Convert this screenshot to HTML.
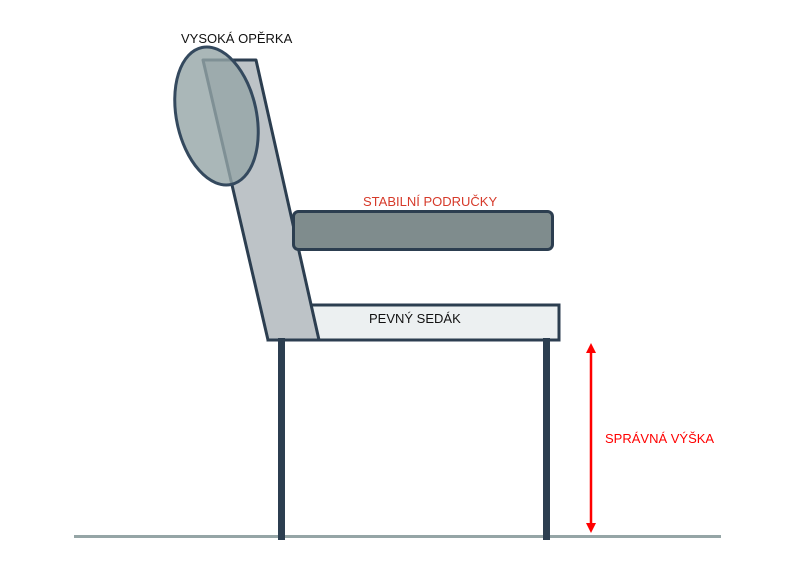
<!DOCTYPE html>
<html><head><style>body{margin:0;background:#fff}svg{display:block}</style></head><body>
<svg width="794" height="569" viewBox="0 0 794 569" xmlns="http://www.w3.org/2000/svg" font-family="Liberation Sans, sans-serif">
<line x1="74" y1="536.5" x2="721" y2="536.5" stroke="#95a5a6" stroke-width="3"/>
<rect x="268" y="305" width="291" height="35" fill="#ecf0f1" stroke="#2c3e50" stroke-width="3"/>
<polygon points="203,60 256,60 319,340 268,340" fill="#bdc3c7" stroke="#2c3e50" stroke-width="3" stroke-linejoin="round"/>
<rect x="293.5" y="211.5" width="259" height="38" rx="5" fill="#7f8c8d" stroke="#2c3e50" stroke-width="3"/>
<ellipse cx="216.5" cy="116" rx="40" ry="70" transform="rotate(-12 216.5 116)" fill="#95a5a6" fill-opacity="0.8" stroke="#34495e" stroke-width="3"/>
<rect x="278" y="338" width="7" height="202" fill="#2c3e50"/>
<rect x="543" y="338" width="7" height="202" fill="#2c3e50"/>
<line x1="591" y1="350" x2="591" y2="526" stroke="#ff0000" stroke-width="2.5"/>
<polygon points="591,343 586,353 596,353" fill="#ff0000"/>
<polygon points="591,533 586,523 596,523" fill="#ff0000"/>
<text x="181" y="43" font-size="13" fill="#111">VYSOKÁ OPĚRKA</text>
<text x="363" y="206" font-size="13" fill="#d63a2a">STABILNÍ PODRUČKY</text>
<text x="369" y="323" font-size="13" fill="#111">PEVNÝ SEDÁK</text>
<text x="605" y="443" font-size="13" fill="#ff0000">SPRÁVNÁ VÝŠKA</text>
</svg>
</body></html>
